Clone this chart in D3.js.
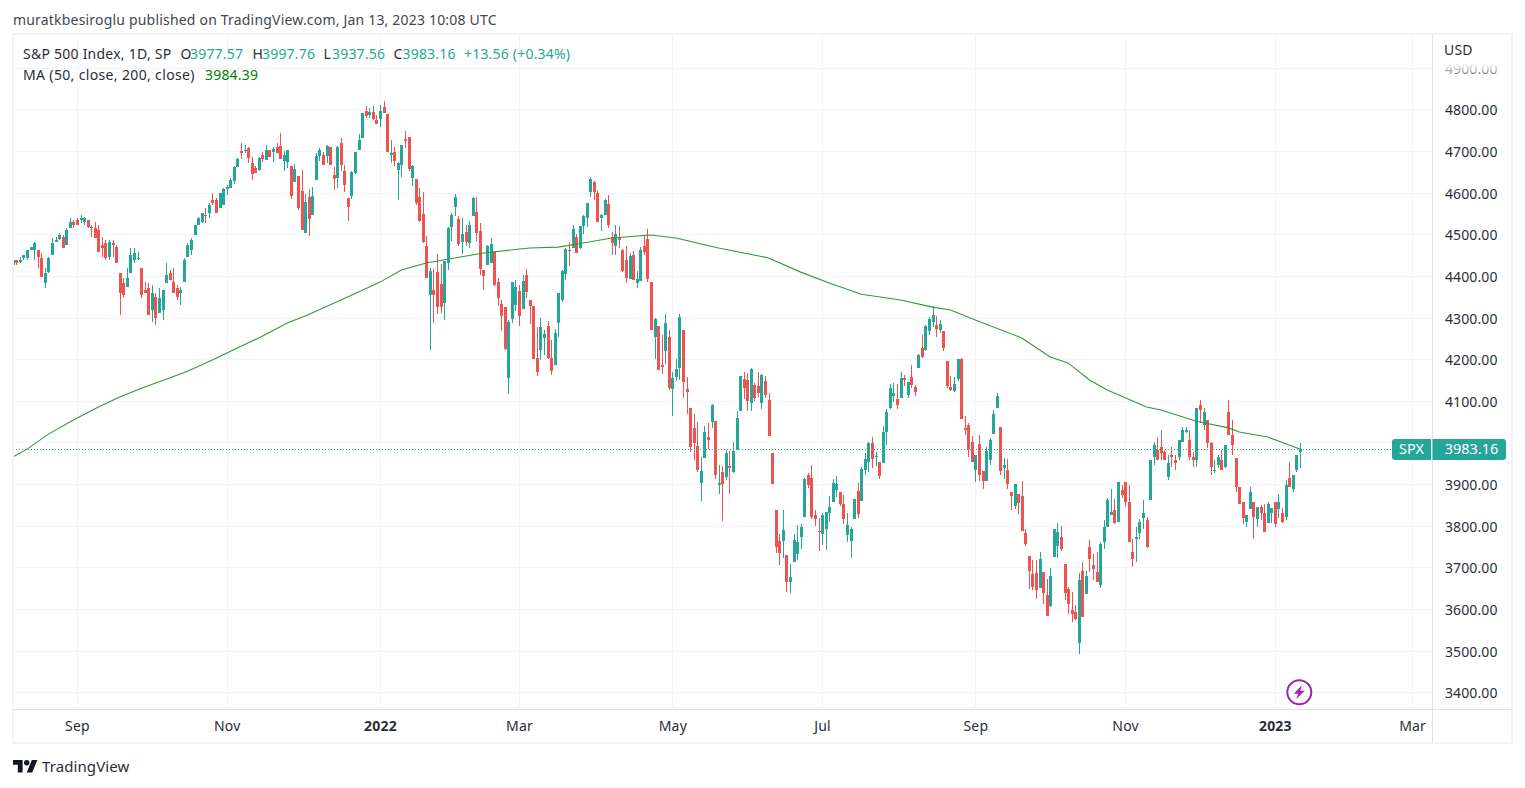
<!DOCTYPE html>
<html><head><meta charset="utf-8">
<script src="https://cdn.jsdelivr.net/npm/d3@7/dist/d3.min.js"></script>
<style>
html,body{margin:0;padding:0;background:#fff;overflow:hidden}
svg{display:block}
text{font-family:"Noto Sans",sans-serif}
</style></head><body><svg id="c" width="1525" height="788"></svg>
<script>
const opens=[4427,4439,4434,4442,4444,4463,4461,4463,4442,4382,
4410,4449,4482,4489,4494,4473,4514,4530,4533,4533,
4530,4533,4518,4514,4509,4475,4480,4446,4478,4470,
4406,4384,4374,4406,4437,4442,4420,4367,4372,4317,
4350,4310,4319,4384,4408,4386,4370,4358,4386,4446,
4463,4497,4523,4530,4547,4552,4581,4581,4562,4571,
4609,4611,4628,4662,4700,4700,4707,4671,4659,4654,
4690,4678,4702,4698,4710,4712,4676,4674,4664,4626,
4640,4604,4503,4590,4546,4630,4688,4690,4688,4710,
4642,4635,4719,4652,4587,4592,4647,4702,4731,4796,
4786,4794,4774,4777,4806,4789,4690,4698,4654,4666,
4729,4734,4635,4633,4590,4549,4472,4354,4366,4410,
4381,4335,4431,4518,4565,4536,4481,4505,4478,4543,
4553,4507,4414,4426,4430,4457,4385,4332,4325,4154,
4296,4330,4363,4320,4402,4342,4327,4202,4222,4250,
4279,4202,4186,4286,4342,4404,4462,4466,4493,4466,
4519,4538,4601,4625,4598,4538,4546,4572,4493,4471,
4493,4462,4438,4392,4450,4382,4387,4471,4488,4385,
4253,4279,4186,4219,4253,4128,4157,4178,4270,4128,
4082,4034,3991,3902,3962,4013,4049,4051,3898,3929,
3917,3943,3929,3982,4075,4152,4150,4094,4138,4135,
4094,4147,4102,3974,3838,3763,3763,3730,3665,3713,
3732,3773,3821,3922,3914,3826,3787,3780,3792,3830,
3857,3886,3881,3852,3778,3763,3816,3883,3859,3934,
3953,3998,3965,3953,3950,4025,4082,4111,4104,4106,
4154,4114,4157,4133,4178,4226,4222,4267,4289,4282,
4270,4267,4195,4133,4123,4152,4200,4034,4042,4001,
3934,3996,3931,3907,3958,4020,4082,4037,3938,3934,
3881,3847,3876,3871,3782,3727,3684,3686,3650,3689,
3633,3607,3725,3751,3773,3708,3648,3598,3593,3518,
3691,3636,3748,3705,3690,3657,3762,3798,3825,3837,
3808,3885,3904,3856,3736,3767,3782,3818,3813,3861,
3964,3981,3990,3978,3918,3969,3959,3964,4000,4024,
4007,3966,3957,4089,4041,4053,3998,3933,3947,3957,
3940,4072,4017,3962,3892,3856,3810,3839,3856,3815,
3846,3830,3806,3830,3856,3839,3830,3822,3914,3887,
3933,3977.57];
const closes=[4437,4432,4439,4449,4463,4470,4480,4446,4398,4408,
4444,4480,4487,4497,4468,4511,4530,4521,4523,4538,
4538,4518,4514,4492,4458,4468,4442,4482,4473,4432,
4358,4353,4396,4451,4456,4444,4353,4358,4307,4358,
4300,4348,4365,4401,4391,4360,4350,4365,4439,4473,
4487,4521,4538,4552,4545,4569,4574,4550,4598,4608,
4614,4630,4662,4681,4695,4702,4683,4645,4647,4682,
4681,4702,4686,4705,4695,4681,4690,4702,4592,4657,
4563,4510,4578,4537,4592,4688,4702,4666,4712,4666,
4633,4710,4666,4618,4566,4650,4698,4726,4791,4784,
4794,4777,4765,4796,4791,4698,4695,4676,4671,4714,
4724,4657,4664,4575,4532,4482,4395,4412,4354,4326,
4326,4436,4515,4546,4589,4476,4500,4481,4522,4586,
4502,4416,4399,4471,4476,4378,4346,4303,4224,4289,
4385,4373,4303,4387,4361,4327,4200,4169,4277,4260,
4202,4171,4262,4358,4411,4464,4459,4512,4454,4519,
4543,4574,4632,4601,4529,4546,4582,4522,4478,4500,
4486,4411,4394,4447,4390,4392,4462,4457,4392,4270,
4296,4174,4181,4286,4130,4154,4176,4301,4145,4121,
3989,3998,3934,3931,4025,4006,4090,3922,3902,3900,
3974,3938,3979,4058,4159,4130,4099,4176,4106,4118,
4162,4114,4015,3900,3749,3734,3790,3665,3677,3766,
3761,3797,3912,3898,3821,3816,3785,3826,3833,3845,
3902,3900,3852,3816,3802,3792,3864,3828,3936,3960,
3998,3960,3967,3919,4025,4073,4130,4118,4090,4154,
4150,4145,4138,4121,4210,4205,4279,4296,4306,4272,
4284,4226,4135,4126,4140,4200,4056,4030,3984,3953,
3970,3922,3907,3979,4006,4068,4111,3931,3946,3900,
3871,3900,3854,3787,3756,3691,3653,3646,3720,3638,
3583,3679,3792,3785,3744,3638,3612,3588,3576,3670,
3581,3679,3719,3695,3666,3755,3798,3861,3832,3806,
3904,3873,3856,3760,3719,3772,3808,3830,3748,3959,
3995,3957,3974,3959,3950,3964,3950,4005,4029,4029,
3964,3957,4082,4077,4074,3998,3940,3935,3966,3935,
3993,4019,3995,3894,3851,3818,3825,3880,3822,3846,
3830,3784,3851,3842,3803,3856,3808,3897,3892,3921,
3971,3983.16];
const highs=[4442,4439,4446,4451,4463,4470,4482,4463,4456,4420,
4446,4492,4494,4504,4497,4514,4538,4533,4538,4547,
4542,4533,4521,4530,4521,4494,4487,4487,4487,4473,
4406,4396,4418,4468,4466,4458,4420,4386,4384,4377,
4358,4370,4367,4432,4413,4418,4377,4374,4442,4478,
4490,4521,4542,4552,4562,4574,4600,4586,4598,4610,
4618,4635,4664,4683,4719,4714,4710,4686,4664,4686,
4698,4714,4702,4710,4719,4743,4700,4702,4664,4669,
4640,4654,4597,4609,4614,4695,4707,4698,4714,4710,
4662,4712,4731,4666,4587,4652,4698,4741,4791,4808,
4803,4808,4786,4810,4820,4789,4726,4710,4674,4714,
4748,4734,4666,4633,4611,4602,4496,4419,4417,4453,
4429,4436,4518,4551,4596,4543,4538,4522,4531,4589,
4589,4526,4414,4474,4490,4457,4394,4342,4325,4294,
4385,4390,4378,4402,4416,4342,4327,4277,4298,4270,
4291,4246,4272,4358,4414,4466,4481,4522,4500,4519,
4546,4574,4637,4627,4603,4548,4584,4594,4505,4522,
4519,4464,4471,4454,4459,4411,4469,4498,4512,4385,
4298,4279,4258,4308,4270,4169,4200,4308,4270,4157,
4082,4068,4049,3965,4039,4046,4092,4051,3946,3943,
3982,3979,4001,4075,4159,4169,4166,4178,4142,4169,
4164,4159,4118,3974,3838,3780,3838,3730,3708,3780,
3802,3804,3914,3926,3946,3838,3818,3830,3833,3871,
3912,3919,3881,3874,3830,3797,3864,3902,3941,3974,
4001,4013,3977,3953,4039,4080,4140,4142,4140,4169,
4162,4145,4186,4138,4212,4258,4282,4301,4327,4303,
4294,4267,4195,4159,4157,4200,4202,4063,4046,4015,
3970,4018,3931,3989,4010,4078,4118,4037,3962,3960,
3881,3900,3876,3907,3792,3727,3718,3718,3737,3689,
3672,3698,3792,3806,3799,3708,3653,3641,3610,3686,
3713,3691,3765,3731,3738,3760,3813,3866,3887,3863,
3906,3897,3904,3897,3767,3798,3815,3861,3820,3959,
4002,4012,4031,3983,3969,3990,3969,4007,4036,4036,
4029,3978,4082,4103,4082,4055,4002,3959,3969,3983,
3993,4103,4055,3962,3892,3856,3825,3892,3856,3846,
3849,3851,3858,3842,3858,3875,3842,3909,3952,3921,
3971,3997.76];
const lows=[4427,4427,4432,4437,4437,4463,4439,4420,4398,4370,
4408,4449,4482,4487,4468,4473,4514,4516,4523,4526,
4523,4514,4494,4492,4458,4446,4437,4439,4446,4430,
4307,4350,4374,4406,4432,4437,4348,4358,4307,4290,
4281,4310,4293,4384,4389,4360,4343,4331,4386,4446,
4449,4497,4523,4528,4526,4538,4571,4550,4562,4571,
4594,4611,4621,4662,4681,4695,4671,4630,4647,4652,
4674,4678,4686,4674,4695,4681,4652,4659,4585,4626,
4558,4510,4503,4496,4546,4630,4676,4666,4671,4666,
4606,4611,4652,4602,4532,4585,4645,4702,4731,4779,
4779,4774,4765,4758,4791,4698,4671,4664,4582,4638,
4707,4652,4616,4570,4530,4479,4395,4222,4287,4309,
4311,4294,4414,4484,4543,4471,4452,4471,4466,4543,
4483,4402,4366,4426,4430,4375,4327,4267,4222,4116,
4286,4315,4279,4320,4346,4284,4200,4159,4198,4210,
4200,4162,4186,4253,4337,4390,4423,4466,4454,4464,
4500,4517,4589,4582,4529,4507,4546,4514,4450,4450,
4466,4409,4382,4392,4390,4370,4387,4450,4385,4270,
4200,4174,4164,4188,4126,4063,4147,4150,4106,4068,
3977,3958,3929,3859,3962,3984,4034,3912,3876,3811,
3910,3876,3926,3982,4075,4104,4075,4075,4099,4109,
4080,4106,4015,3900,3734,3706,3722,3641,3638,3713,
3718,3744,3821,3890,3816,3799,3739,3754,3742,3809,
3857,3869,3847,3804,3761,3722,3816,3818,3859,3922,
3929,3938,3943,3912,3950,3994,4080,4097,4080,4106,
4135,4106,4130,4111,4178,4202,4219,4258,4277,4253,
4262,4219,4130,4123,4121,4147,4056,4018,3965,3953,
3905,3907,3888,3907,3946,4020,4082,3922,3912,3888,
3838,3840,3828,3787,3751,3648,3646,3624,3650,3612,
3583,3605,3725,3722,3739,3622,3588,3569,3574,3492,
3581,3636,3688,3669,3666,3650,3743,3798,3825,3803,
3808,3866,3846,3760,3700,3712,3767,3791,3746,3861,
3947,3957,3959,3957,3909,3940,3935,3959,4000,4022,
3957,3940,3940,4046,4029,3986,3921,3926,3938,3935,
3938,4019,3969,3882,3851,3803,3798,3839,3767,3798,
3813,3784,3806,3806,3796,3818,3806,3813,3892,3880,
3930,3937.56];
const maBars=[0,4,10,17,24,30,37,43,49,56,63,69,77,83,97,103,109,116,124,132,145,153,160,168,179,186,198,212,221,229,238,249,258,263,270,283,291,296,302,307,318,322,332,341,344,352,361];
const maValues=[3965,3984,4020,4054,4085,4109,4133,4152,4171,4198,4227,4251,4287,4307,4361,4385,4414,4431,4443,4455,4467,4469,4479,4491,4498,4491,4467,4443,4409,4383,4356,4342,4325,4318,4294,4251,4205,4191,4150,4126,4085,4078,4051,4035,4025,4013,3984.39];
const priceTicks=[3400,3500,3600,3700,3800,3900,4000,4100,4200,4300,4400,4500,4600,4700,4800,4900];
const timeTickBars=[18,60,103,142,185,227,270,312,354,392.5];
const timeTickLabels=["Sep","Nov","2022","Mar","May","Jul","Sep","Nov","2023","Mar"];
const boldTicks=["2022","2023"];
const lastPrice=3983.16;

const UP="#26a69a",DOWN="#ef5350",GRID="#f3f4f9",BORDER="#f0f3fa",LINE="#e0e3eb",TXT="#2a2e39";
const L=13,R=1432,T=34,B=709.5,FR=1512,FB=743;
const svg=d3.select("#c");
const x=d3.scaleLinear().domain([0,361]).range([12.8,1299.8]);
const y=d3.scaleLinear().domain([3400,4800]).range([692.3,109.3]);
svg.append("defs").append("clipPath").attr("id","pane").append("rect").attr("x",L).attr("y",T).attr("width",R-L).attr("height",B-T);
const g=svg.append("g").attr("clip-path","url(#pane)");

g.append("g").selectAll("line").data(priceTicks).join("line")
 .attr("x1",L).attr("x2",R).attr("y1",d=>Math.round(y(d))+.5).attr("y2",d=>Math.round(y(d))+.5)
 .attr("stroke",GRID);
g.append("g").selectAll("line").data(timeTickBars).join("line")
 .attr("y1",T).attr("y2",B).attr("x1",d=>Math.round(x(d))+.5).attr("x2",d=>Math.round(x(d))+.5)
 .attr("stroke",GRID);

const idx=d3.range(opens.length);
const col=i=>closes[i]>=opens[i]?UP:DOWN;
const cg=g.append("g");
cg.selectAll("rect.w").data(idx).join("rect").attr("class","w")
 .attr("x",i=>Math.round(x(i))).attr("width",1)
 .attr("y",i=>Math.round(y(highs[i]))).attr("height",i=>Math.max(1,Math.round(y(lows[i]))-Math.round(y(highs[i]))))
 .attr("fill",col);
cg.selectAll("rect.b").data(idx).join("rect").attr("class","b")
 .attr("x",i=>Math.round(x(i))-1).attr("width",3)
 .attr("y",i=>Math.round(y(Math.max(opens[i],closes[i]))))
 .attr("height",i=>Math.max(1,Math.round(y(Math.min(opens[i],closes[i])))-Math.round(y(Math.max(opens[i],closes[i])))))
 .attr("fill",col);

g.append("line").attr("x1",L).attr("x2",1392).attr("y1",Math.round(y(lastPrice))+.5).attr("y2",Math.round(y(lastPrice))+.5)
 .attr("stroke",UP).attr("stroke-width",1).attr("stroke-dasharray","1 2");

g.append("path").attr("fill","none").attr("stroke","#2e9b33").attr("stroke-width",1.1)
 .attr("d",d3.line().x(i=>x(maBars[i])).y(i=>y(maValues[i]))(d3.range(maBars.length)));

// frame
svg.append("rect").attr("x",L).attr("y",T).attr("width",FR-L).attr("height",FB-T).attr("fill","none").attr("stroke",BORDER).attr("stroke-width",2);
svg.append("line").attr("x1",R+.5).attr("x2",R+.5).attr("y1",T).attr("y2",FB).attr("stroke",LINE);
svg.append("line").attr("x1",L).attr("x2",FR).attr("y1",B).attr("y2",B).attr("stroke",LINE);

// axes
const ya=svg.append("g").attr("transform",`translate(${R},0)`).call(d3.axisRight(y).tickValues(priceTicks).tickSize(0).tickPadding(13).tickFormat(d=>d.toFixed(2)));
ya.select(".domain").remove();
ya.selectAll("text").attr("font-family",'"Noto Sans",sans-serif').attr("font-size",14).attr("fill",TXT).attr("dy","0.4em").attr("letter-spacing",.1);
const xa=svg.append("g").attr("transform",`translate(0,${B})`).call(d3.axisBottom(x).tickValues(timeTickBars).tickSize(0).tickPadding(12).tickFormat((d,i)=>timeTickLabels[i]));
xa.select(".domain").remove();
xa.selectAll("text").attr("font-family",'"Noto Sans",sans-serif').attr("font-size",14).attr("fill",TXT).attr("letter-spacing",.2)
 .attr("font-weight",(d,i)=>boldTicks.includes(timeTickLabels[i])?700:400);

// fade top of price axis
const dg=svg.select("defs").append("linearGradient").attr("id","fade").attr("x1",0).attr("x2",0).attr("y1",0).attr("y2",1);
dg.append("stop").attr("offset","0%").attr("stop-color","#fff");
dg.append("stop").attr("offset","72%").attr("stop-color","#fff");
dg.append("stop").attr("offset","100%").attr("stop-color","#fff").attr("stop-opacity",.4);
svg.append("rect").attr("x",R+2).attr("y",T+2).attr("width",FR-R-4).attr("height",38).attr("fill","url(#fade)");

const t=(s,px,py,c,o={})=>svg.append("text").attr("x",px).attr("y",py).attr("fill",c).attr("font-size",o.size||14).attr("font-weight",o.w||400).attr("text-anchor",o.a||"start").attr("letter-spacing",o.ls==null?.2:o.ls).text(s);
t("USD",1444,55,TXT);
t("muratkbesiroglu published on TradingView.com, Jan 13, 2023 10:08 UTC",13,25,"#434651",{ls:.19});
t("S&P 500 Index, 1D, SP",23,59,TXT,{ls:.24});
[["O",180.5,"3977.57",190],["H",252.5,"3997.76",262],["L",323.5,"3937.56",332],["C",393.5,"3983.16",402.5]].forEach(a=>{
  t(a[0],a[1],59,TXT);t(a[2],a[3],59,UP);
});
t("+13.56 (+0.34%)",464,59,UP);
t("MA (50, close, 200, close)",23,80,TXT,{ls:.35});
t("3984.39",205,80,"#008000");

// last price label
const ly=y(lastPrice);
svg.append("path").attr("fill",UP).attr("d",`M1395 ${ly-10.5}H1431V${ly+10.5}H1395a3 3 0 0 1 -3 -3V${ly-7.5}a3 3 0 0 1 3 -3Z`);
svg.append("path").attr("fill",UP).attr("d",`M1432.5 ${ly-10.5}H1503a3 3 0 0 1 3 3V${ly+7.5}a3 3 0 0 1 -3 3H1432.5Z`);
t("SPX",1411.5,ly+5,"#fff",{a:"middle",size:14.5,ls:0});
t(lastPrice.toFixed(2),1471.5,ly+5,"#fff",{a:"middle",size:14.5,ls:0});

// bolt icon
const ic=svg.append("g").attr("transform","translate(1299.3,692.3)");
ic.append("circle").attr("r",12).attr("fill","#fff").attr("stroke","#9c27b0").attr("stroke-width",2);
ic.append("path").attr("fill","#9c27b0").attr("d","M2.5 -7L-5.5 1.5H-1L-3 7L5.5 -1.5H1Z");

// logo
const lg=svg.append("g").attr("transform","translate(13,757.3) scale(.686)").attr("fill","#131722");
lg.append("path").attr("d","M14 22H7V11H0V4h14v18zM28 22h-8l7.5-18h8L28 22z");
lg.append("circle").attr("cx",20).attr("cy",8).attr("r",4);
t("TradingView",42,772,"#2a2e39",{size:15,ls:.1});
</script></body></html>
